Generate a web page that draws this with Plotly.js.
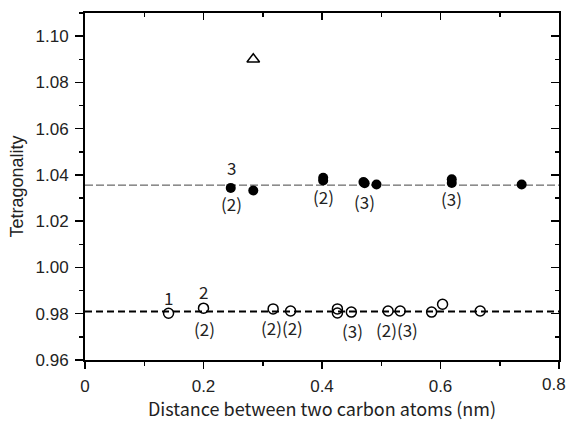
<!DOCTYPE html>
<html>
<head>
<meta charset="utf-8">
<script src="https://cdn.plot.ly/plotly-3.0.1.min.js"></script>
<style>html,body{margin:0;padding:0;background:#fff;}#chart{width:569px;height:421px;}</style>
</head>
<body>
<div id="chart"></div>
<script>
// Filled circles (upper group)
const filledX = [0.246, 0.284, 0.402, 0.402, 0.470, 0.472, 0.492, 0.619, 0.619, 0.737];
const filledY = [1.0344, 1.0333, 1.0388, 1.0376, 1.0369, 1.0364, 1.0359, 1.0381, 1.0365, 1.0359];
// Open circles (lower group)
const openX = [0.141, 0.200, 0.3175, 0.347, 0.426, 0.426, 0.4495, 0.5115, 0.532, 0.585, 0.6035, 0.667];
const openY = [0.9802, 0.9824, 0.9821, 0.9812, 0.9821, 0.9803, 0.9807, 0.9812, 0.9812, 0.9807, 0.9841, 0.9812];
// Open triangle
const triX = [0.284];
const triY = [1.0900];
// Reference (average) lines
const upperLineY = 1.0356;
const lowerLineY = 0.9810;
// Text labels
const labelText = ["1", "2", "(2)", "(2)(2)", "(3)", "(2)(3)", "3", "(2)", "(2)", "(3)", "(3)"];
const labelX = [0.141, 0.200, 0.201, 0.333, 0.451, 0.526, 0.247, 0.248, 0.402, 0.471, 0.619];
const labelY = [0.9872, 0.9894, 0.9735, 0.9742, 0.9728, 0.9732, 1.0430, 1.0276, 1.0306, 1.0285, 1.0296];
// X tick labels (the last one is placed as a nudged label so it stays inside the page)
const xTickVals = [0, 0.2, 0.4, 0.6, 0.8];
const xTickText = ["0", "0.2", "0.4", "0.6", "0.8"];
const yTickVals = [0.96, 0.98, 1.00, 1.02, 1.04, 1.06, 1.08, 1.10];
const yTickText = ["0.96", "0.98", "1.00", "1.02", "1.04", "1.06", "1.08", "1.10"];

const tickFont = {family: "Liberation Sans", size: 17, color: "#222"};
const cjk = "Noto Sans CJK JP";

const traces = [
  {x: filledX, y: filledY, mode: "markers", type: "scatter",
   marker: {symbol: "circle", size: 10, color: "#000"}, hoverinfo: "skip"},
  {x: openX, y: openY, mode: "markers", type: "scatter",
   marker: {symbol: "circle-open", size: 10, color: "#000", line: {width: 1.5, color: "#000"}}, hoverinfo: "skip"},
  {x: triX, y: triY, mode: "markers", type: "scatter",
   marker: {symbol: "triangle-up-open", size: 11, color: "#000", line: {width: 1.5, color: "#000"}}, hoverinfo: "skip"},
  {x: [], y: [], xaxis: "x2", yaxis: "y2", type: "scatter", mode: "markers", hoverinfo: "skip"}
];

const annotations = labelText.map((t, i) => ({
  x: labelX[i], y: labelY[i], xref: "x", yref: "y", text: t, showarrow: false,
  font: {family: cjk, size: 17, color: "#222"}
}));
const lastIdx = xTickVals.length - 1;
annotations.push({
  x: xTickVals[lastIdx], y: 0, xref: "x", yref: "paper", text: xTickText[lastIdx], showarrow: false,
  xanchor: "center", yanchor: "middle", xshift: -5, yshift: -24, font: tickFont
});
const xTickTextShown = xTickText.map((t, i) => i === lastIdx ? "" : t);

const layout = {
  width: 569, height: 421,
  margin: {l: 85, r: 10, t: 13, b: 61},
  paper_bgcolor: "#fff", plot_bgcolor: "#fff",
  showlegend: false,
  xaxis: {
    range: [0, 0.8], tickvals: xTickVals, ticktext: xTickTextShown,
    ticks: "outside", ticklen: 7, tickwidth: 1.5, tickcolor: "#000",
    minor: {dtick: 0.1, tick0: 0, ticks: "outside", ticklen: 4, tickwidth: 1.5, tickcolor: "#000", showgrid: false},
    showline: true, linewidth: 2, linecolor: "#000", showgrid: false, zeroline: false,
    tickfont: tickFont, ticklabelstandoff: 3,
    title: {text: "Distance between two carbon atoms (nm)", font: {family: cjk, size: 18, color: "#222"}, standoff: 5}
  },
  xaxis2: {
    overlaying: "x", side: "top", anchor: "y", range: [0, 0.8],
    dtick: 0.2, tick0: 0, ticks: "inside", ticklen: 7, tickwidth: 1.5, tickcolor: "#000",
    minor: {dtick: 0.1, tick0: 0, ticks: "inside", ticklen: 4, tickwidth: 1.5, tickcolor: "#000", showgrid: false},
    showticklabels: false, showline: true, linewidth: 2, linecolor: "#000", showgrid: false, zeroline: false
  },
  yaxis: {
    range: [0.96, 1.11], tickvals: yTickVals, ticktext: yTickText,
    ticks: "outside", ticklen: 8, tickwidth: 1.5, tickcolor: "#000",
    minor: {dtick: 0.01, tick0: 0.96, ticks: "outside", ticklen: 4, tickwidth: 1.5, tickcolor: "#000", showgrid: false},
    showline: true, linewidth: 2, linecolor: "#000", showgrid: false, zeroline: false,
    tickfont: tickFont, ticklabelstandoff: 3,
    title: {text: "Tetragonality", font: {family: "Liberation Sans", size: 18, color: "#222"}, standoff: 7}
  },
  yaxis2: {
    overlaying: "y", side: "right", anchor: "x", range: [0.96, 1.11],
    dtick: 0.02, tick0: 0.96, ticks: "inside", ticklen: 8, tickwidth: 1.5, tickcolor: "#000",
    minor: {dtick: 0.01, tick0: 0.96, ticks: "inside", ticklen: 4, tickwidth: 1.5, tickcolor: "#000", showgrid: false},
    showticklabels: false, showline: true, linewidth: 2, linecolor: "#000", showgrid: false, zeroline: false
  },
  shapes: [
    {type: "line", xref: "paper", yref: "y", x0: 0, x1: 1, y0: upperLineY, y1: upperLineY,
     line: {color: "#444", width: 1, dash: "8px,3px"}, layer: "below"},
    {type: "line", xref: "paper", yref: "y", x0: 0, x1: 1, y0: lowerLineY, y1: lowerLineY,
     line: {color: "#000", width: 2, dash: "7px,4px"}, layer: "below"}
  ],
  annotations: annotations
};

Plotly.newPlot("chart", traces, layout, {displayModeBar: false, staticPlot: true});
</script>
</body>
</html>
